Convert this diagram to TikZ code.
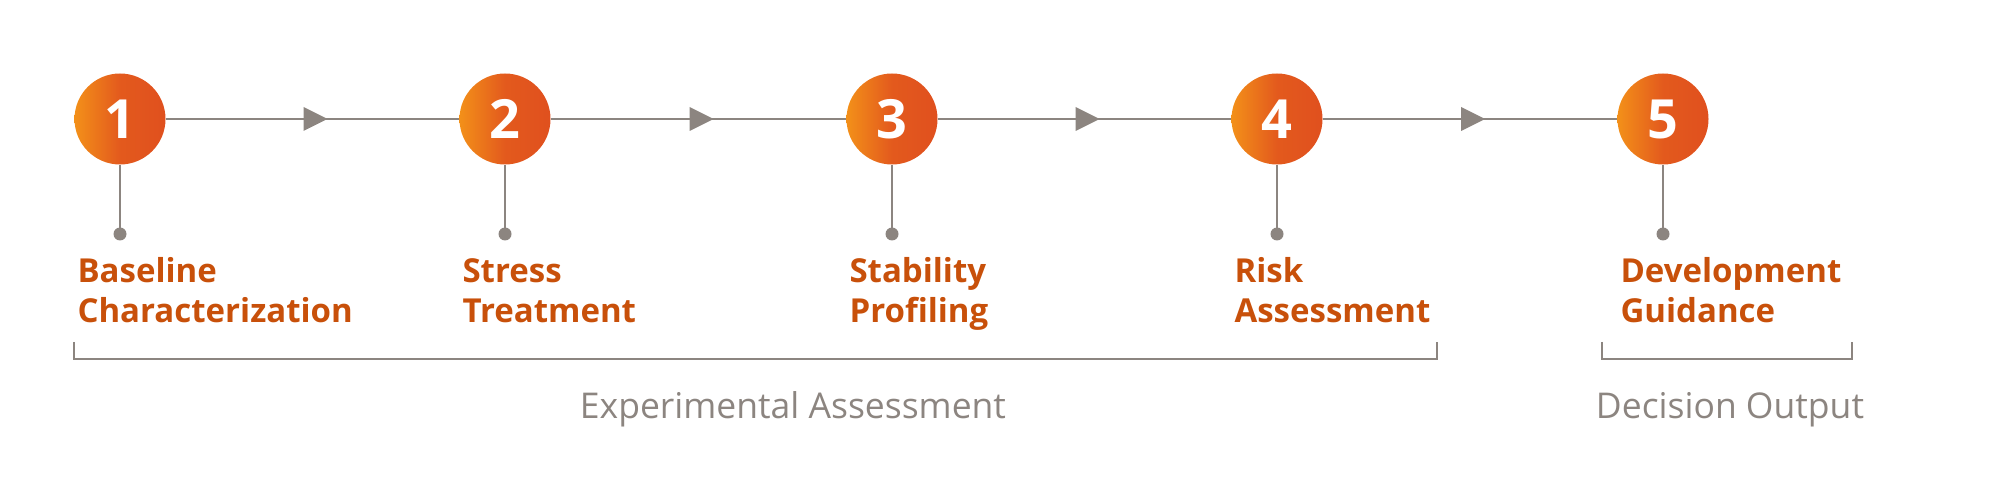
\documentclass[tikz,border=0pt]{standalone}
\usepackage{fontspec}
\setmainfont{Open Sans}
\usetikzlibrary{decorations.markings}
\definecolor{og}{HTML}{C8500A}
\definecolor{gl}{HTML}{8C8580}
\definecolor{oL}{HTML}{F39019}
\definecolor{oR}{HTML}{E0501E}
\begin{document}
\begin{tikzpicture}[x=1pt,y=-1pt,
  stepc/.style={circle,minimum size=91pt,inner sep=0pt,left color=oL,right color=oR,middle color=oR!85!oL,text=white,font=\fontsize{54}{56}\selectfont\bfseries},
  conn/.style={draw=gl,line width=2pt,postaction={decorate},decoration={markings,mark=at position 0.5 with {\fill[gl] (-9,-12)--(15,0)--(-9,12)--cycle;}}},
  stem/.style={draw=gl,line width=2pt},
  dot/.style={circle,fill=gl,minimum size=13pt,inner sep=0pt},
  lab/.style={anchor=base west,align=left,text=og,font=\fontsize{33}{40}\selectfont\bfseries},
  grp/.style={anchor=base,text=gl,font=\fontsize{35.5}{40}\selectfont},
  brk/.style={draw=gl,line width=2pt}]
\useasboundingbox (0,0) rectangle (2000,502);
\foreach \i/\x/\t in {1/120/{Baseline\\Characterization},2/505/{Stress\\Treatment},3/892/{Stability\\Profiling},4/1277/{Risk\\Assessment},5/1663/{Development\\Guidance}}{
  \node[stepc] (c\i) at (\x,119) {\i};
  \node[dot] (d\i) at (\x,234) {};
  \draw[stem] (c\i.south) -- (d\i.center);
  \node[lab] (l\i) at (\x-46,323) {\t};
}
\foreach \a/\b in {1/2,2/3,3/4,4/5}{\draw[conn] (c\a) -- (c\b);}
\coordinate (b1a) at (74,342); \coordinate (b1b) at (74,359);
\coordinate (b1c) at (1437,359); \coordinate (b1d) at (1437,342);
\draw[brk] (b1a) -- (b1b) -- (b1c) -- (b1d);
\coordinate (b2a) at (1602,342); \coordinate (b2b) at (1602,359);
\coordinate (b2c) at (1852,359); \coordinate (b2d) at (1852,342);
\draw[brk] (b2a) -- (b2b) -- (b2c) -- (b2d);
\node[grp] (g1) at (793,419) {Experimental Assessment};
\node[grp] (g2) at (1730,419) {Decision Output};
\end{tikzpicture}
\end{document}
